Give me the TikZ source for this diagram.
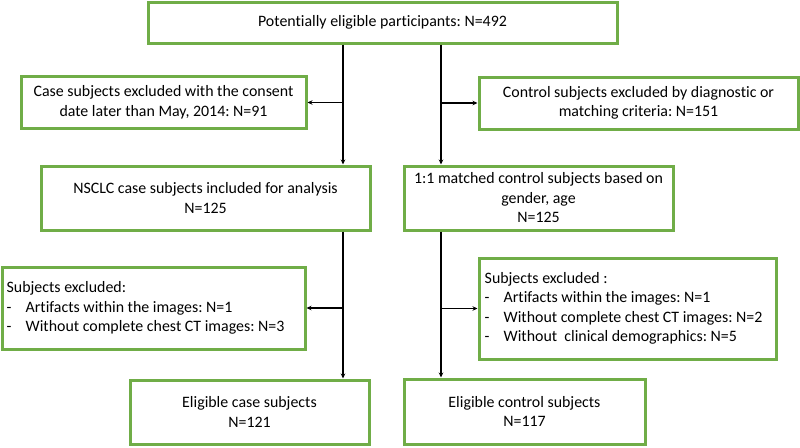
\documentclass[tikz,border=0pt]{standalone}
\usepackage{fontspec}
\setmainfont{Carlito}[Ligatures={NoCommon,TeX}]
\usetikzlibrary{arrows.meta}
\definecolor{boxgreen}{RGB}{112,173,71}
\begin{document}
\frenchspacing
\begin{tikzpicture}[x=1pt,y=-1pt,
  txt/.style={inner sep=0pt,font=\fontsize{15.9}{19.5}\selectfont},
  box/.style={txt,draw=boxgreen,line width=3pt,align=center},
  ltxt/.style={txt,align=left,anchor=west},
  arr/.style={line width=1.5pt,-{Stealth[length=5pt,width=4.5pt]}}]
\useasboundingbox (0,0) rectangle (800,447);
\newcommand{\dashitem}{\makebox[19pt][l]{-}}
\node[box,minimum width=469pt,minimum height=41pt] (top) at (382.5,22.5) {Potentially eligible participants: N=492};
\node[box,minimum width=285pt,minimum height=52pt] (caseex) at (163.5,102.5) {Case subjects excluded with the consent\\date later than May, 2014: N=91};
\node[box,minimum width=319pt,minimum height=52pt] (ctrlex) at (638.5,103) {Control subjects excluded by diagnostic or\\matching criteria: N=151};
\node[box,minimum width=329pt,minimum height=64pt] (nsclc) at (205.5,198) {NSCLC case subjects included for analysis\\N=125};
\node[box,minimum width=269pt,minimum height=64pt] (matched) at (538.5,198) {1:1 matched control subjects based on\\gender, age\\N=125};
\node[box,minimum width=303pt,minimum height=82pt] (lsub) at (153.5,308) {};
\node[ltxt] (lsubtext) at ([xshift=6pt]lsub.west) {Subjects excluded:\\\dashitem Artifacts within the images: N=1\\\dashitem Without complete chest CT images: N=3};
\node[box,minimum width=297pt,minimum height=101pt] (rsub) at (627.5,308.5) {};
\node[ltxt] (rsubtext) at ([xshift=7pt]rsub.west) {Subjects excluded :\\\dashitem Artifacts within the images: N=1\\\dashitem Without complete chest CT images: N=2\\\dashitem Without\ \ clinical demographics: N=5};
\node[box,minimum width=239pt,minimum height=64pt] (elcase) at (249.5,412) {Eligible case subjects\\N=121};
\node[box,minimum width=241pt,minimum height=65pt] (elctrl) at (524.5,411.5) {Eligible control subjects\\N=117};
\coordinate (lt) at (343,0);
\coordinate (rt) at (441,0);
\draw[arr] (top.south -| lt) -- (nsclc.north -| lt);
\draw[arr] (top.south -| rt) -- (matched.north -| rt);
\draw[arr] (caseex.east -| lt) -- (caseex.east);
\draw[arr] (ctrlex.west -| rt) -- (ctrlex.west);
\draw[arr] (nsclc.south -| lt) -- (elcase.north -| lt);
\draw[arr] (matched.south -| rt) -- (elctrl.north -| rt);
\draw[arr] (lsub.east -| lt) -- (lsub.east);
\draw[arr] (rsub.west -| rt) -- (rsub.west);
\end{tikzpicture}
\end{document}
